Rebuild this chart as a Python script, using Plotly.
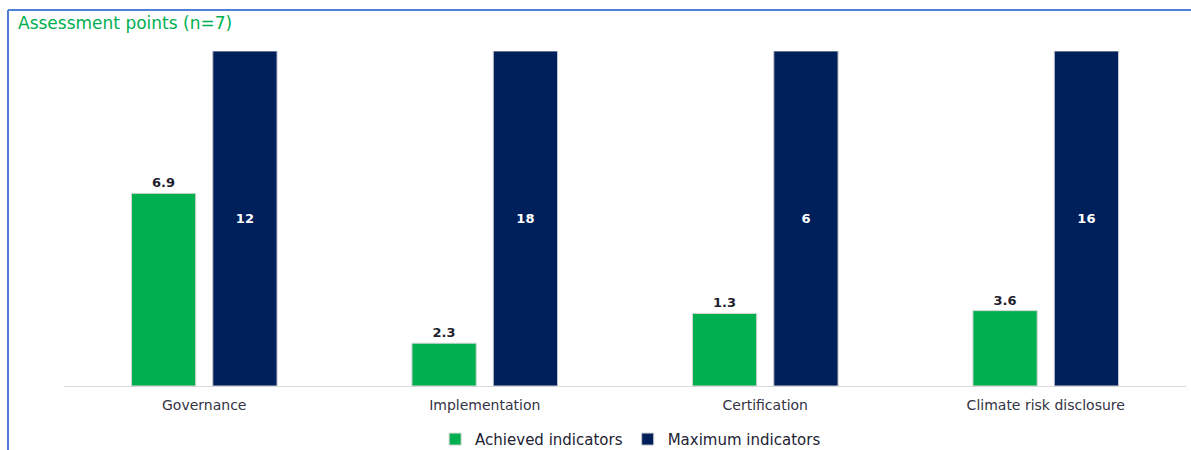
import plotly.graph_objects as go

# data
categories = ["Governance", "Implementation", "Certification", "Climate risk disclosure"]
achieved = [6.9, 2.3, 1.3, 3.6]
maximum = [12, 18, 6, 16]

# bars are drawn as share of the maximum, labels show raw points
achieved_share = [a / m for a, m in zip(achieved, maximum)]
maximum_share = [m / m for m in maximum]

green = "#00B050"
navy = "#00205B"
font = "DejaVu Sans"

fig = go.Figure()
fig.add_trace(go.Bar(
    name="Achieved indicators",
    x=categories,
    y=achieved_share,
    text=[f"{v:.1f}" for v in achieved],
    textposition="outside",
    textfont=dict(family=font, size=13, color="#1f1f2e", weight="bold"),
    marker=dict(color=green, line=dict(color="#d5d5d5", width=1)),
    cliponaxis=False,
))
fig.add_trace(go.Bar(
    name="Maximum indicators",
    x=categories,
    y=maximum_share,
    text=[str(v) for v in maximum],
    textposition="inside",
    insidetextanchor="middle",
    textfont=dict(family=font, size=13, color="white", weight="bold"),
    marker=dict(color=navy, line=dict(color="#c8c8d0", width=1)),
))

fig.update_layout(
    width=1191,
    height=450,
    barmode="group",
    bargap=0.42,
    bargroupgap=0.21,
    plot_bgcolor="white",
    paper_bgcolor="white",
    margin=dict(l=64, r=5, t=51, b=64, autoexpand=False),
    font=dict(family=font, size=14, color="#333344"),
    showlegend=True,
    legend=dict(
        orientation="h",
        x=0.505,
        xanchor="center",
        y=-0.11,
        yanchor="top",
        itemwidth=30,
        font=dict(family=font, size=15, color="#222233"),
    ),
    uniformtext=dict(mode=False),
)
fig.update_xaxes(
    showline=True,
    linecolor="#d9d9d9",
    linewidth=1,
    ticks="",
    ticklabelstandoff=6,
    tickfont=dict(family=font, size=14, color="#333344"),
    showgrid=False,
)
fig.update_yaxes(
    range=[0, 1.0],
    visible=False,
    showgrid=False,
)

# title text and the blue frame
fig.add_annotation(
    text="Assessment points (n=7)",
    xref="paper", yref="paper",
    x=(16 - 64) / 1122, y=(386 - 11) / 335,
    xanchor="left", yanchor="top",
    showarrow=False,
    font=dict(family=font, size=17, color=green),
)
fig.add_shape(
    type="line", xref="paper", yref="paper",
    x0=(8 - 64) / 1122, x1=(1191 - 64) / 1122,
    y0=(386 - 10) / 335, y1=(386 - 10) / 335,
    line=dict(color="#4f7fd6", width=2),
)
fig.add_shape(
    type="line", xref="paper", yref="paper",
    x0=(8 - 64) / 1122, x1=(8 - 64) / 1122,
    y0=(386 - 10) / 335, y1=(386 - 460) / 335,
    line=dict(color="#4f7fd6", width=2),
)

fig.write_html(
    "out.html",
    config={"displayModeBar": False},
    post_script="document.body.style.margin='0px';",
)
